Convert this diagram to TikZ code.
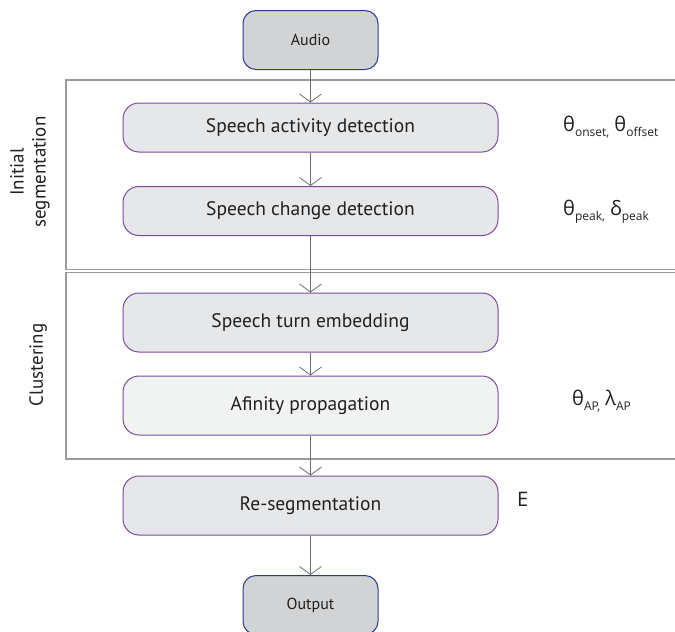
\documentclass[tikz,border=0pt]{standalone}
\usepackage{fontspec}
\setmainfont{PT Sans}
\newfontfamily\greekfont{Open Sans}
\usetikzlibrary{arrows.meta}
\definecolor{frameGray}{HTML}{9A9B9D}
\definecolor{arrowGray}{HTML}{6D6E71}
\definecolor{boxFill}{HTML}{E6E7E8}
\definecolor{boxFillLight}{HTML}{F1F2F2}
\definecolor{boxLine}{HTML}{7A4A9E}
\definecolor{ioFill}{HTML}{D1D3D4}
\definecolor{ioLine}{HTML}{2E3A8F}
\definecolor{txt}{HTML}{231F20}
\tikzset{
  stepbox/.style={draw=boxLine, line width=1pt, fill=boxFill, rounded corners=16pt,
    minimum width=375pt, minimum height=49pt, inner sep=0pt, text=txt, font=\fontsize{19.5}{22}\selectfont},
  iobox/.style={draw=ioLine, line width=1pt, fill=ioFill, rounded corners=13pt,
    minimum width=135pt, minimum height=59pt, inner sep=0pt, text=txt, font=\fontsize{16}{18}\selectfont},
  flow/.style={draw=arrowGray, line width=0.9pt, -{Straight Barb[length=8pt,width=22pt,line width=0.8pt]}},
  frame/.style={draw=frameGray, line width=1.4pt},
  param/.style={anchor=west, text=txt, font=\fontsize{20}{22}\selectfont\greekfont, inner sep=0pt},
  stage/.style={rotate=90, text=txt, align=center, font=\fontsize{19}{22}\selectfont}
}
\newcommand{\sbs}[1]{\raisebox{-5pt}{\fontsize{12}{14}\selectfont #1}}
\begin{document}
\begin{tikzpicture}[x=1pt,y=-1pt]
\useasboundingbox (0,0) rectangle (675,632);

% stage frames (open to the right)
\draw[frame] (675,80) -- (66,80) -- (66,269.5) -- (675,269.5);
\draw[frame] (675,272.5) -- (66,272.5) -- (66,459) -- (675,459);

% flow nodes
\node[iobox] (audio) at (310.5,40) {Audio};
\node[stepbox] (sad) at (310.5,127.5) {Speech activity detection};
\node[stepbox] (scd) at (310.5,211) {Speech change detection};
\node[stepbox, minimum height=59pt] (emb) at (310.5,322.5) {Speech turn embedding};
\node[stepbox, minimum height=59pt, fill=boxFillLight] (ap) at (310.5,405.5) {Afinity propagation};
\node[stepbox, minimum height=59pt] (reseg) at (310.5,505.5) {Re-segmentation};
\node[iobox] (out) at (310.5,605) {Output};

% connectors
\draw[flow] (audio) -- (sad);
\draw[flow] (sad) -- (scd);
\draw[flow] (scd) -- (emb);
\draw[flow] (emb) -- (ap);
\draw[flow] (ap) -- (reseg);
\draw[flow] (reseg) -- (out);

% stage labels
\node[stage] (lblinit) at (30,172) {Initial\\segmentation};
\node[stage] (lblclust) at (38,365) {Clustering};

% parameters
\node[param] (psad) at (563,127) {θ\sbs{onset,} θ\sbs{offset}};
\node[param] (pscd) at (563,212) {θ\sbs{peak,} δ\sbs{peak}};
\node[param] (pap) at (572,401) {θ\sbs{AP,} λ\sbs{AP}};
\node[param] (pres) at (517,499) {E};
\end{tikzpicture}
\end{document}
